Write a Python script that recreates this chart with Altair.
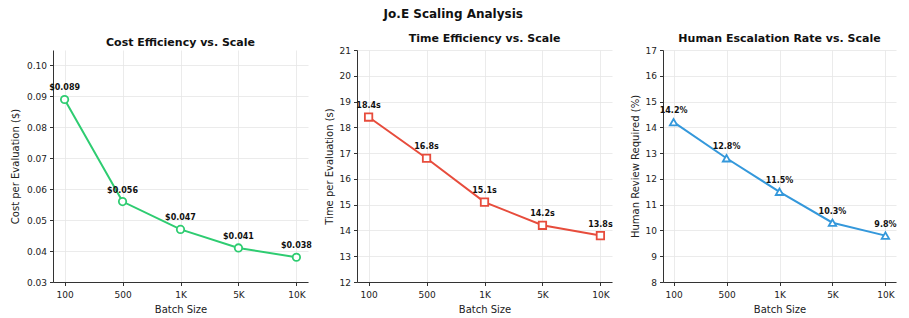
import altair as alt
import pandas as pd

batch = ["100", "500", "1K", "5K", "10K"]
cost = [0.089, 0.056, 0.047, 0.041, 0.038]
time_s = [18.4, 16.8, 15.1, 14.2, 13.8]
human = [14.2, 12.8, 11.5, 10.3, 9.8]

cost_labels = [f"${v:.3f}" for v in cost]
time_labels = [f"{v:.1f}s" for v in time_s]
human_labels = [f"{v:.1f}%" for v in human]

FONT = "DejaVu Sans"
H = 232


def panel(vals, labels, color, shape, title, ytitle, domain, ticks, fmt, extent, tpad, w):
    df = pd.DataFrame({"batch": batch, "v": vals, "lab": labels})
    x = alt.X("batch:N", sort=batch, title="Batch Size",
              scale=alt.Scale(type="point", padding=0.2),
              axis=alt.Axis(labelAngle=0, grid=True, labelPadding=5, titlePadding=5))
    y = alt.Y("v:Q", title=ytitle,
              scale=alt.Scale(domain=domain, nice=False, zero=False),
              axis=alt.Axis(values=ticks, format=fmt, grid=True,
                            minExtent=extent, maxExtent=extent,
                            titlePadding=tpad))
    base = alt.Chart(df).encode(x=x, y=y)
    line = base.mark_line(color=color, strokeWidth=2)
    pts = base.mark_point(shape=shape, filled=True, fill="white", stroke=color,
                          strokeWidth=1.8, size=55, opacity=1)
    txt = base.mark_text(dy=-11, fontSize=8, fontWeight="bold", font=FONT,
                         color="#111111").encode(text="lab:N")
    return alt.layer(line, pts, txt).properties(
        width=w, height=H,
        title=alt.TitleParams(title, fontSize=11, fontWeight="bold", font=FONT,
                              color="#111111", offset=2))


p1 = panel(cost, cost_labels, "#2ecc71", "circle", "Cost Efficiency vs. Scale",
           "Cost per Evaluation ($)", [0.03, 0.105],
           [0.03, 0.04, 0.05, 0.06, 0.07, 0.08, 0.09, 0.10], ".2f", 29, 4, 255)
p2 = panel(time_s, time_labels, "#e74c3c", "square", "Time Efficiency vs. Scale",
           "Time per Evaluation (s)", [12, 21], list(range(12, 22)), "d", 19.5, 3.5, 255)
p3 = panel(human, human_labels, "#3498db", "triangle-up",
           "Human Escalation Rate vs. Scale", "Human Review Required (%)",
           [8, 17], list(range(8, 18)), "d", 19.5, 3.5, 233)

right = alt.hconcat(p2, p3, spacing=17)
chart = alt.hconcat(p1, right, spacing=12).properties(
    title=alt.TitleParams("Jo.E Scaling Analysis", fontSize=12, fontWeight="bold",
                          font=FONT, color="#111111", anchor="middle", offset=12),
    padding={"left": 2, "top": 0, "right": 0, "bottom": 0},
).configure_view(stroke=None).configure_axis(
    labelFont=FONT, titleFont=FONT, labelFontSize=9, titleFontSize=10,
    labelColor="#222222", titleColor="#222222", titleFontWeight="normal",
    domainColor="#333333", domainWidth=1, tickColor="#333333", tickSize=3.5,
    gridColor="#e6e6e6", gridWidth=0.8, labelPadding=3,
)

chart.save("out.html", embed_options={"renderer": "svg", "actions": False})
